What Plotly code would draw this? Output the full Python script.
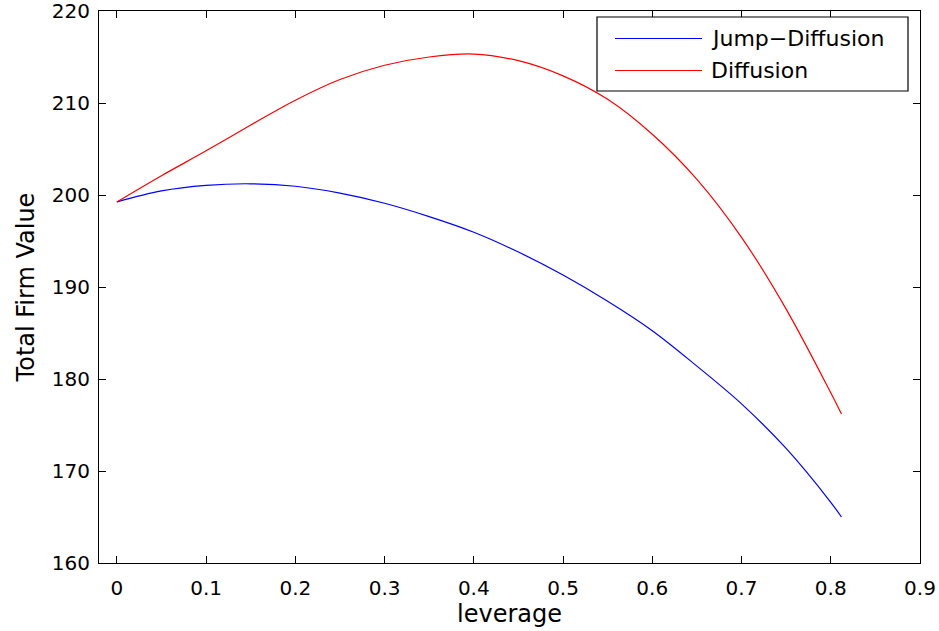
import plotly.graph_objects as go

leverage = [0.0, 0.05, 0.1, 0.15, 0.2, 0.25, 0.3, 0.35, 0.4, 0.45, 0.5, 0.55, 0.6, 0.65, 0.7, 0.75, 0.8, 0.812]
jump_diffusion = [199.25, 200.45, 201.05, 201.22, 200.95, 200.2, 199.1, 197.65, 195.95, 193.8, 191.3, 188.45, 185.25, 181.4, 177.3, 172.45, 166.6, 165.0]
diffusion = [199.25, 202.1, 204.8, 207.6, 210.3, 212.55, 214.1, 215.0, 215.32, 214.6, 212.95, 210.4, 206.6, 201.7, 195.4, 187.6, 178.5, 176.2]

x_ticks = [0, 0.1, 0.2, 0.3, 0.4, 0.5, 0.6, 0.7, 0.8, 0.9]
x_tick_labels = ["0", "0.1", "0.2", "0.3", "0.4", "0.5", "0.6", "0.7", "0.8", "0.9"]
y_ticks = [160, 170, 180, 190, 200, 210, 220]
series_names = ["Jump\u2212Diffusion", "Diffusion"]
series_colors = ["#0000ff", "#ff0000"]

FONT = "DejaVu Sans"

fig = go.Figure()
for name, ys, col in zip(series_names, [jump_diffusion, diffusion], series_colors):
    fig.add_trace(go.Scatter(x=leverage, y=ys, mode="lines", name=name,
                             line=dict(color=col, width=1.2, shape="spline", smoothing=1.0),
                             showlegend=False))

axis_common = dict(showline=True, linecolor="black", linewidth=1.2, mirror="ticks",
                   ticks="inside", ticklen=7, tickwidth=1, tickcolor="black",
                   showgrid=False, zeroline=False, automargin=False,
                   ticklabeloverflow="allow",
                   tickfont=dict(family=FONT, size=20, color="black"))

fig.update_xaxes(range=[-0.02, 0.9], tickvals=x_ticks, ticktext=x_tick_labels,
                 ticklabelstandoff=7,
                 title=dict(text="leverage", font=dict(family=FONT, size=24, color="black"), standoff=2),
                 **axis_common)
fig.update_yaxes(range=[160, 220], tickvals=y_ticks,
                 ticklabelstandoff=4,
                 title=dict(text="Total Firm Value", font=dict(family=FONT, size=24, color="black"), standoff=10),
                 **axis_common)

# custom legend box (paper coordinates)
W, H = 939, 631
L, R, T, B = 99, 920, 11, 563
def px(xp):
    return (xp - L) / (R - L)
def py(yp):
    return 1 - (yp - T) / (B - T)

shapes = [dict(type="rect", xref="paper", yref="paper", x0=px(597), x1=px(908), y0=py(91), y1=py(17),
               line=dict(color="black", width=1.2), fillcolor="white", layer="above")]
annotations = []
for i, (name, col) in enumerate(zip(series_names, series_colors)):
    yy = [38.5, 70.5][i]
    shapes.append(dict(type="line", xref="paper", yref="paper", x0=px(615), x1=px(702), y0=py(yy), y1=py(yy),
                       line=dict(color=col, width=1.2), layer="above"))
    annotations.append(dict(xref="paper", yref="paper", x=px(709), y=py(yy), xanchor="left", yanchor="middle",
                            text=name, showarrow=False, font=dict(family=FONT, size=22, color="black")))

fig.update_layout(width=W, height=H, margin=dict(l=L, r=W - R, t=T, b=H - B),
                  plot_bgcolor="white", paper_bgcolor="white",
                  shapes=shapes, annotations=annotations)

fig.write_html("out.html")
